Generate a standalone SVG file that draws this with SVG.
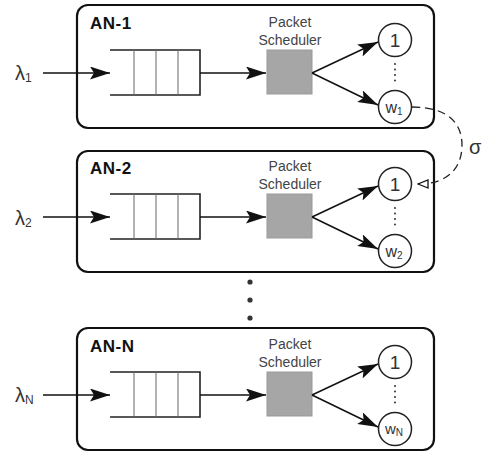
<svg xmlns="http://www.w3.org/2000/svg" width="491" height="454" viewBox="0 0 491 454">
<defs>
<style>
.box{fill:#fff;stroke:#111;stroke-width:2.2}
.q{fill:none;stroke:#222;stroke-width:1.6}
.qd{stroke:#666;stroke-width:1}
.ln{stroke:#111;stroke-width:1.5;fill:none}
.sch{fill:#a6a6a6;stroke:#999;stroke-width:1}
.circ{fill:#fff;stroke:#222;stroke-width:1.5}
.t{font-family:"Liberation Sans",Arial,sans-serif;fill:#333}
.title{font-family:"Liberation Sans",Arial,sans-serif;font-weight:bold;font-size:17px;fill:#111;letter-spacing:0.5px}
.ps{font-family:"Liberation Sans",Arial,sans-serif;font-size:14px;fill:#444;text-anchor:middle}
.dot{fill:#333}
</style>
<marker id="ah" viewBox="0 0 20 13" refX="20" refY="6.5" markerWidth="20" markerHeight="13" markerUnits="userSpaceOnUse" orient="auto">
<path d="M0 0 L20 6.5 L0 13 L4 6.5 Z" fill="#111"/>
</marker>
<marker id="oa" viewBox="0 0 12 10" refX="11" refY="5" markerWidth="12" markerHeight="10" markerUnits="userSpaceOnUse" orient="auto">
<path d="M1 1 L11 5 L1 9 Z" fill="#fff" stroke="#111" stroke-width="1.3"/>
</marker>
<g id="unit">
<path class="q" d="M110 50 H200 V95 H110"/>
<line class="qd" x1="134" y1="50" x2="134" y2="95"/>
<line class="qd" x1="156" y1="50" x2="156" y2="95"/>
<line class="qd" x1="178" y1="50" x2="178" y2="95"/>
<line class="ln" x1="43" y1="73" x2="110" y2="73" marker-end="url(#ah)"/>
<line class="ln" x1="200" y1="73" x2="266" y2="73" marker-end="url(#ah)"/>
<rect class="sch" x="267" y="50" width="45" height="44"/>
<text class="ps" x="290" y="27">Packet</text>
<text class="ps" x="290" y="45">Scheduler</text>
<line class="ln" x1="312" y1="73" x2="378" y2="42" marker-end="url(#ah)"/>
<line class="ln" x1="312" y1="73" x2="378" y2="105" marker-end="url(#ah)"/>
<circle class="circ" cx="395" cy="40" r="16.5"/>
<circle class="circ" cx="395" cy="107" r="16.5"/>
<text class="t" x="395" y="47" font-size="19" text-anchor="middle">1</text>
<circle class="dot" cx="395" cy="64" r="1"/>
<circle class="dot" cx="395" cy="69.5" r="1"/>
<circle class="dot" cx="395" cy="75" r="1"/>
<circle class="dot" cx="395" cy="80.5" r="1"/>
</g>
</defs>
<g id="an1">
<rect class="box" x="77" y="5" width="357" height="123" rx="11"/>
<text class="title" x="90" y="29">AN-1</text>
<use href="#unit"/>
<text class="t" x="15" y="80" font-size="20">λ<tspan font-size="12" dy="2">1</tspan></text>
<text class="t" x="394" y="113" font-size="16" text-anchor="middle">w<tspan font-size="10" dy="2">1</tspan></text>
</g>
<g id="an2">
<rect class="box" x="77" y="151" width="357" height="121" rx="11"/>
<text class="title" x="90" y="174">AN-2</text>
<use href="#unit" transform="translate(0,144)"/>
<text class="t" x="15" y="225" font-size="20">λ<tspan font-size="12" dy="2">2</tspan></text>
<text class="t" x="394" y="257" font-size="16" text-anchor="middle">w<tspan font-size="10" dy="2">2</tspan></text>
</g>
<g id="dots">
<circle class="dot" cx="250" cy="282" r="2.6"/>
<circle class="dot" cx="250" cy="300" r="2.6"/>
<circle class="dot" cx="250" cy="318" r="2.6"/>
</g>
<g id="ann">
<rect class="box" x="77" y="328" width="357" height="122" rx="11"/>
<text class="title" x="90" y="352">AN-N</text>
<use href="#unit" transform="translate(0,322)"/>
<text class="t" x="15" y="402" font-size="20">λ<tspan font-size="12" dy="2">N</tspan></text>
<text class="t" x="394" y="434" font-size="15" text-anchor="middle">w<tspan font-size="10" dy="2">N</tspan></text>
</g>
<g id="connectors">
<path d="M412 107 C450 107 462 125 462 145 C462 166 450 184 418 184" fill="none" stroke="#222" stroke-width="1.3" stroke-dasharray="8 5" marker-end="url(#oa)"/>
<text class="t" x="469" y="154" font-size="20">σ</text>
</g>
</svg>
